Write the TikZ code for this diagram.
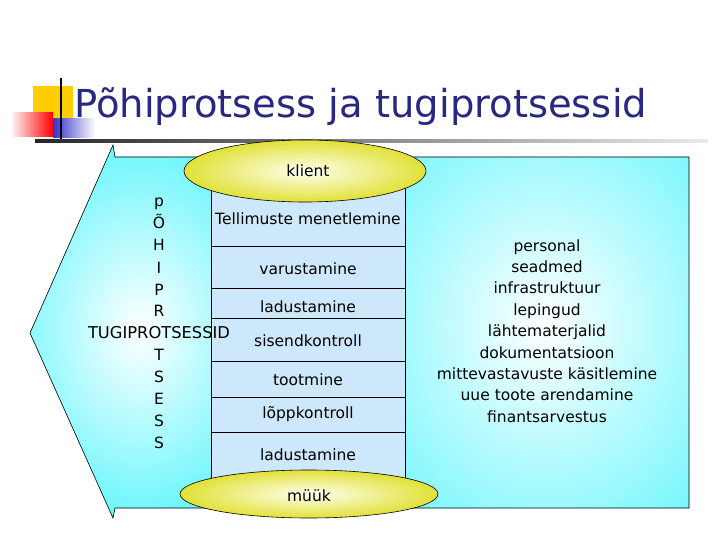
\documentclass[tikz,border=0pt]{standalone}
\usepackage{fontspec}
\setmainfont{DejaVu Sans}
\usetikzlibrary{shapes.geometric}
\definecolor{titleblue}{RGB}{40,40,130}
\definecolor{cyanc}{RGB}{90,245,252}
\definecolor{colblue}{RGB}{205,232,250}
\definecolor{ellyel}{RGB}{225,225,55}
\definecolor{ellin}{RGB}{255,255,240}
\definecolor{decoyel}{RGB}{255,205,0}
\definecolor{decoblue}{RGB}{50,50,200}
\begin{document}
\begin{tikzpicture}[x=1pt,y=-1pt,
  txt/.style={font=\fontsize{15.5}{21.4}\selectfont, inner sep=0pt, anchor=base},
  vletter/.style={font=\fontsize{15.5}{18}\selectfont, inner sep=0pt, anchor=base},
  ovalbox/.style={draw=black, line width=0.6pt, ellipse, inner color=ellin, outer color=ellyel, inner sep=0pt},
  rowline/.style={draw=black, line width=0.8pt}]
\useasboundingbox (0,0) rectangle (720,540);
% title decoration
\fill[decoyel] (33,86) rectangle (73,125);
\shade[left color=white, right color=red] (10,113) rectangle (53,137);
\shade[left color=decoblue, right color=white] (53,119) rectangle (95,138);
\draw[line width=2pt] (61,78) -- (61,143);
\shade[left color=black!85, right color=black!8] (35,139.5) rectangle (708,142.5);
\node[anchor=base west, inner sep=0pt, text=titleblue, font=\fontsize{38.5}{46}\selectfont] (title) at (74,118) {Põhiprotsess ja tugiprotsessid};
% main arrow shape
\coordinate (barbT) at (113,145);
\coordinate (notchT) at (115,157);
\coordinate (cornTR) at (689,157);
\coordinate (cornBR) at (689,508);
\coordinate (notchB) at (115,508);
\coordinate (barbB) at (113,518);
\coordinate (tip) at (30,333);
\begin{scope}
  \clip (barbT) -- (notchT) -- (cornTR) -- (cornBR) -- (notchB) -- (barbB) -- (tip) -- cycle;
  \fill[cyanc] (0,140) rectangle (700,520);
  \shade[inner color=white, outer color=cyanc] (140,330) ellipse (160 and 210);
  \shade[inner color=white, outer color=cyanc] (545,325) ellipse (260 and 300);
\end{scope}
\draw[line width=0.6pt] (barbT) -- (notchT) -- (cornTR) -- (cornBR) -- (notchB) -- (barbB) -- (tip) -- cycle;
% middle column
\filldraw[fill=colblue, draw=black, line width=0.8pt] (211,185) rectangle (405,478);
\foreach \yy in {246,288,318,361,397,432} \draw[rowline] (211,\yy) -- (405,\yy);
% ellipses
\node[ovalbox, minimum width=242pt, minimum height=62pt] (klient) at (305,171) {};
\node[ovalbox, minimum width=258pt, minimum height=48pt] (myyk) at (309,494) {};
\node[txt] (klientT) at (308,177) {klient};
\node[txt] (myykT) at (309,501) {müük};
% column texts
\node[txt] (r1) at (308,225) {Tellimuste menetlemine};
\node[txt] (r2) at (308,274) {varustamine};
\node[txt] (r3) at (308,312) {ladustamine};
\node[txt] (r4) at (308,346) {sisendkontroll};
\node[txt] (r5) at (308,385) {tootmine};
\node[txt] (r6) at (308,418) {lõppkontroll};
\node[txt] (r7) at (308,460) {ladustamine};
% vertical letters
\node[vletter] (v1) at (159,207) {p};
\node[vletter] (v2) at (159,229) {Õ};
\node[vletter] (v3) at (159,251) {H};
\node[vletter] (v4) at (159,273) {I};
\node[vletter] (v5) at (159,295) {P};
\node[vletter] (v6) at (159,316) {R};
\node[vletter, font=\fontsize{16.3}{18}\selectfont] (tugi) at (159,338) {TUGIPROTSESSID};
\node[vletter] (v7) at (159,360) {T};
\node[vletter] (v8) at (159,382) {S};
\node[vletter] (v9) at (159,404) {E};
\node[vletter] (v10) at (159,426) {S};
\node[vletter] (v11) at (159,448) {S};
% support list
\node[align=center, inner sep=0pt, font=\fontsize{15.5}{21.4}\selectfont] (support) at (547,331)
  {personal\\seadmed\\infrastruktuur\\lepingud\\lähtematerjalid\\dokumentatsioon\\mittevastavuste käsitlemine\\uue toote arendamine\\finantsarvestus};
\end{tikzpicture}
\end{document}
